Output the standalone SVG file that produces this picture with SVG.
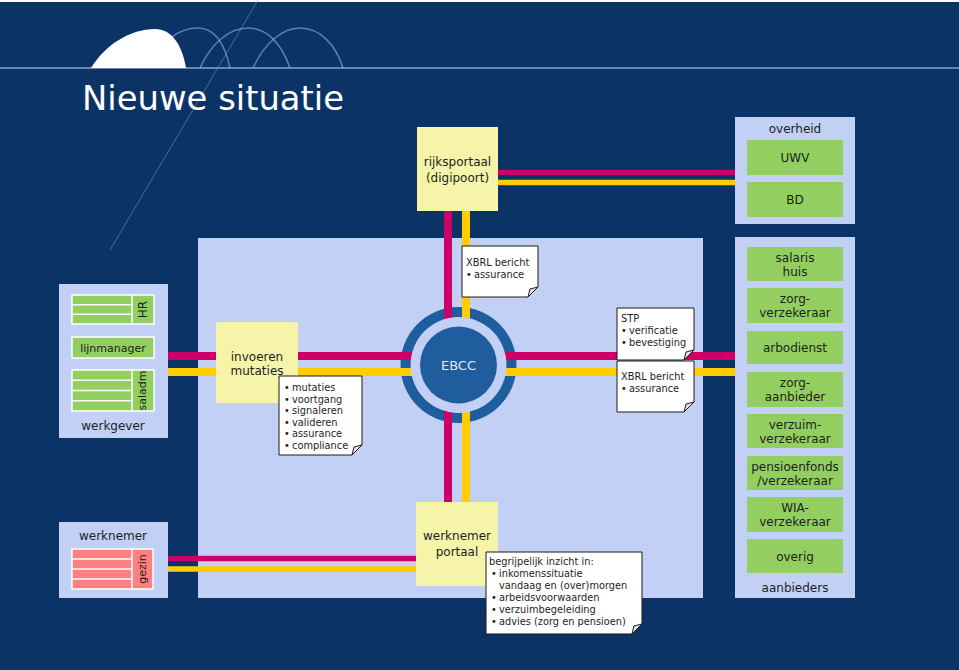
<svg xmlns="http://www.w3.org/2000/svg" width="959" height="670" viewBox="0 0 959 670">
<style>
text{font-family:"DejaVu Sans","Liberation Sans",sans-serif;fill:#1e1e1e}
.lbl{font-size:12px;text-anchor:middle}
.sm{font-size:11px;text-anchor:middle}
.nt{font-size:9.8px}
.panel{fill:#c1d0f4}
.green{fill:#92cf60}
.pale{fill:#f5f4a8}
.pink{fill:#ff8080}
.grid{stroke:#ffffff;stroke-width:1.5;fill:none}
.note{fill:#ffffff;stroke:#1a1a1a;stroke-width:1}
.fold{fill:#e4e4e4;stroke:#1a1a1a;stroke-width:1}
.mag{stroke:#cc0066}
.yel{stroke:#ffcc00}
.deco{fill:none;stroke:#9fb4d8;stroke-width:1.5;opacity:0.6}
</style>
<rect x="0" y="0" width="959" height="670" fill="#0b3366"/>
<rect x="0" y="0" width="959" height="2" fill="#ffffff"/>
<g id="logo">
<line x1="0" y1="68" x2="959" y2="68" stroke="#aebfe0" stroke-width="1.5" opacity="0.8"/>
<line x1="258" y1="0" x2="110" y2="250" stroke="#8aa3cc" stroke-width="1" opacity="0.5"/>
<path class="deco" d="M150,68 C160,40 180,28 198,28 C215,28 225,45 230,68"/>
<path class="deco" d="M200,68 C212,42 230,28 248,28 C268,28 282,45 290,68"/>
<path class="deco" d="M253,68 C265,42 283,28 300,28 C320,28 336,45 343,68"/>
<path d="M91,68 C105,45 130,29 155,29 C172,29 182,45 186,68 Z" fill="#ffffff"/>
</g>
<text x="82" y="110" font-size="33" textLength="262" lengthAdjust="spacingAndGlyphs" style="fill:#ffffff;font-family:'DejaVu Sans',sans-serif">Nieuwe situatie</text>

<g id="centrum"><rect class="panel" x="198" y="238" width="505" height="360"/></g>

<g id="connectors" fill="none">
<line class="mag" x1="168" y1="356" x2="458" y2="356" stroke-width="8"/>
<line class="yel" x1="168" y1="372" x2="458" y2="372" stroke-width="8"/>
<line class="mag" x1="458" y1="356" x2="735" y2="356" stroke-width="8"/>
<line class="yel" x1="458" y1="372" x2="735" y2="372" stroke-width="8"/>
<line class="mag" x1="448" y1="211" x2="448" y2="502" stroke-width="8"/>
<line class="yel" x1="466" y1="211" x2="466" y2="502" stroke-width="8"/>
<line class="mag" x1="498" y1="172.5" x2="735" y2="172.5" stroke-width="5.5"/>
<line class="yel" x1="498" y1="182.5" x2="735" y2="182.5" stroke-width="5.5"/>
<line class="mag" x1="168" y1="558.5" x2="416" y2="558.5" stroke-width="5.5"/>
<line class="yel" x1="168" y1="569" x2="416" y2="569" stroke-width="5.5"/>
</g>

<g id="werkgever">
<rect class="panel" x="59" y="284" width="109" height="154"/>
<rect class="green" x="72" y="295" width="82" height="29"/>
<path class="grid" d="M72,295 H154 V324 H72 Z M132,295 V324 M72,304.7 H132 M72,314.3 H132"/>
<text transform="translate(147,309.5) rotate(-90)" class="lbl">HR</text>
<rect class="green" x="72" y="337" width="82" height="21"/>
<path class="grid" d="M72,337 H154 V358 H72 Z"/>
<text x="113" y="351.5" class="sm">lijnmanager</text>
<rect class="green" x="72" y="370" width="82" height="41"/>
<path class="grid" d="M72,370 H154 V411 H72 Z M132,370 V411 M72,380.25 H132 M72,390.5 H132 M72,400.75 H132"/>
<text transform="translate(146,390.5) rotate(-90)" class="sm">saladm</text>
<text x="113" y="430" class="lbl" font-size="12.5">werkgever</text>
</g>

<g id="werknemer">
<rect class="panel" x="59" y="522" width="109" height="76"/>
<text x="113" y="540" class="lbl" font-size="12.5">werknemer</text>
<rect class="pink" x="72" y="549" width="81" height="40"/>
<path class="grid" d="M72,549 H153 V589 H72 Z M132,549 V589 M72,559 H132 M72,569 H132 M72,579 H132"/>
<text transform="translate(146,569) rotate(-90)" class="sm">gezin</text>
</g>

<g id="rijksportaal">
<rect class="pale" x="417" y="127" width="81" height="84"/>
<text x="457.5" y="166" class="lbl">rijksportaal</text>
<text x="457.5" y="182" class="lbl">(digipoort)</text>
</g>

<g id="overheid">
<rect class="panel" x="735" y="117" width="120" height="107"/>
<text x="795" y="133" class="lbl">overheid</text>
<rect class="green" x="747" y="140" width="96" height="35"/>
<text x="795" y="162" class="lbl">UWV</text>
<rect class="green" x="747" y="182" width="96" height="35"/>
<text x="795" y="204" class="lbl">BD</text>
</g>

<g id="aanbieders">
<rect class="panel" x="735" y="237" width="120" height="361"/>
<rect class="green" x="747" y="247" width="96" height="34"/>
<text x="795" y="262" class="lbl">salaris</text><text x="795" y="275.5" class="lbl">huis</text>
<rect class="green" x="747" y="288" width="96" height="35"/>
<text x="795" y="303" class="lbl">zorg-</text><text x="795" y="317" class="lbl">verzekeraar</text>
<rect class="green" x="747" y="331" width="96" height="33"/>
<text x="795" y="352" class="lbl">arbodienst</text>
<rect class="green" x="747" y="372" width="96" height="35"/>
<text x="795" y="387" class="lbl">zorg-</text><text x="795" y="401" class="lbl">aanbieder</text>
<rect class="green" x="747" y="414" width="96" height="34"/>
<text x="795" y="429" class="lbl">verzuim-</text><text x="795" y="443" class="lbl">verzekeraar</text>
<rect class="green" x="747" y="456" width="96" height="34"/>
<text x="795" y="470.5" class="lbl">pensioenfonds</text><text x="795" y="484.5" class="lbl">/verzekeraar</text>
<rect class="green" x="747" y="497" width="96" height="35"/>
<text x="795" y="512" class="lbl">WIA-</text><text x="795" y="526" class="lbl">verzekeraar</text>
<rect class="green" x="747" y="539" width="96" height="34"/>
<text x="795" y="560.5" class="lbl">overig</text>
<text x="795" y="592" class="lbl">aanbieders</text>
</g>

<g id="invoeren-mutaties">
<rect class="pale" x="216" y="322" width="82" height="81"/>
<text x="257" y="360.5" class="lbl">invoeren</text>
<text x="257" y="375" class="lbl">mutaties</text>
</g>

<g id="note-mutaties">
<path class="note" d="M279,376 H362 V445 L352,455 H279 Z"/>
<path class="fold" d="M362,445 L352,455 L354,447 Z"/>
<g class="nt">
<text x="284" y="391" class="nt">•</text><text x="292" y="391" class="nt">mutaties</text>
<text x="284" y="402.5" class="nt">•</text><text x="292" y="402.5" class="nt">voortgang</text>
<text x="284" y="414" class="nt">•</text><text x="292" y="414" class="nt">signaleren</text>
<text x="284" y="425.5" class="nt">•</text><text x="292" y="425.5" class="nt">valideren</text>
<text x="284" y="437" class="nt">•</text><text x="292" y="437" class="nt">assurance</text>
<text x="284" y="448.5" class="nt">•</text><text x="292" y="448.5" class="nt">compliance</text>
</g>
</g>

<g id="ebcc">
<circle cx="458.5" cy="365" r="58" fill="#1f5d9e"/>
<line class="mag" x1="400" y1="356" x2="517" y2="356" stroke-width="8"/>
<line class="yel" x1="400" y1="372" x2="517" y2="372" stroke-width="8"/>
<line class="mag" x1="448" y1="306" x2="448" y2="424" stroke-width="8"/>
<line class="yel" x1="466" y1="306" x2="466" y2="424" stroke-width="8"/>
<circle cx="458.5" cy="365" r="48" fill="#c1d0f4"/>
<circle cx="458.5" cy="365" r="38.5" fill="#1f5d9e"/>
<text x="458.5" y="370" text-anchor="middle" font-size="13" style="fill:#e2e9f7">EBCC</text>
</g>

<g id="note-xbrl-top">
<path class="note" d="M462,246 H538 V287 L528,297 H462 Z"/>
<path class="fold" d="M538,287 L528,297 L530,289 Z"/>
<text x="466" y="266" class="nt">XBRL bericht</text>
<text x="466" y="277.5" class="nt">•</text><text x="474" y="277.5" class="nt">assurance</text>
</g>

<g id="note-stp">
<path class="note" d="M617,308 H694 V350 L684,360 H617 Z"/>
<path class="fold" d="M694,350 L684,360 L686,352 Z"/>
<text x="621" y="322" class="nt">STP</text>
<text x="621" y="334" class="nt">•</text><text x="629" y="334" class="nt">verificatie</text>
<text x="621" y="346" class="nt">•</text><text x="629" y="346" class="nt">bevestiging</text>
</g>

<g id="note-xbrl-right">
<path class="note" d="M617,361 H694 V402 L684,412 H617 Z"/>
<path class="fold" d="M694,402 L684,412 L686,404 Z"/>
<text x="621" y="380" class="nt">XBRL bericht</text>
<text x="621" y="392" class="nt">•</text><text x="629" y="392" class="nt">assurance</text>
</g>

<g id="werknemer-portaal">
<rect class="pale" x="416" y="502" width="82" height="84"/>
<text x="457" y="540" class="lbl">werknemer</text>
<text x="457" y="556" class="lbl">portaal</text>
</g>

<g id="note-inzicht">
<path class="note" d="M486,552 H642 V624 L632,634 H486 Z"/>
<path class="fold" d="M642,624 L632,634 L634,626 Z"/>
<text x="489" y="565" class="nt">begrijpelijk inzicht in:</text>
<text x="491" y="577" class="nt">•</text><text x="499" y="577" class="nt">inkomenssituatie</text>
<text x="499" y="589" class="nt">vandaag en (over)morgen</text>
<text x="491" y="601" class="nt">•</text><text x="499" y="601" class="nt">arbeidsvoorwaarden</text>
<text x="491" y="613" class="nt">•</text><text x="499" y="613" class="nt">verzuimbegeleiding</text>
<text x="491" y="625" class="nt">•</text><text x="499" y="625" class="nt">advies (zorg en pensioen)</text>
</g>
</svg>
